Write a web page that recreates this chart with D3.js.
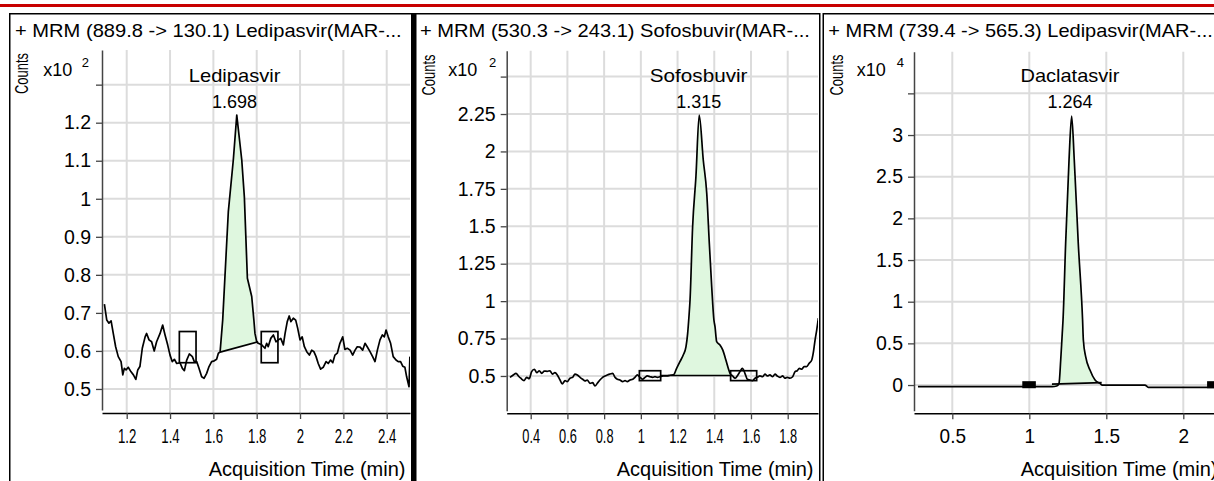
<!DOCTYPE html>
<html><head><meta charset="utf-8">
<script src="https://cdn.jsdelivr.net/npm/d3@7"></script>
<style>
body{margin:0;background:#fff}
svg{display:block}
text{font-family:"Liberation Sans",Arial,Helvetica,sans-serif;fill:#000}
</style>
</head><body>
<svg id="c" width="1214" height="481"></svg>
<script>
// ---------------- DATA ----------------
const panelTitles = ["+ MRM (889.8 -> 130.1) Ledipasvir(MAR-...", "+ MRM (530.3 -> 243.1) Sofosbuvir(MAR-...", "+ MRM (739.4 -> 565.3) Ledipasvir(MAR-..."];
const compoundNames = ["Ledipasvir", "Sofosbuvir", "Daclatasvir"];
const retentionTimes = [1.698, 1.315, 1.264];
const countExponents = [2, 2, 4];
const yAxisLabel = "Counts";
const xAxisLabel = "Acquisition Time (min)";

// Panel 1 : Ledipasvir (x10^2 counts)
const p1Time = [1.097,1.108,1.118,1.128,1.138,1.149,1.161,1.174,1.182,1.189,1.197,1.207,1.220,1.231,1.242,1.251,1.261,1.272,1.285,1.292,1.303,1.315,1.327,1.338,1.354,1.366,1.377,1.389,1.400,1.410,1.420,1.431,1.446,1.457,1.466,1.477,1.489,1.503,1.512,1.523,1.534,1.546,1.557,1.569,1.580,1.592,1.604,1.615,1.623,1.631,
 1.643,1.669,1.692,1.708,1.731,1.743,1.757,1.777,1.787,1.792,1.800,
 1.807,1.823,1.838,1.846,1.853,1.865,1.877,1.889,1.900,1.911,1.923,1.931,1.941,1.950,1.958,1.969,1.980,1.989,2.000,2.010,2.020,2.031,2.043,2.054,2.064,2.074,2.084,2.095,2.107,2.120,2.130,2.141,2.151,2.161,2.172,2.184,2.197,2.207,2.218,2.231,2.243,2.254,2.264,2.277,2.289,2.300,2.310,2.323,2.335,2.346,2.357,2.369,2.380,2.389,2.397,2.407,2.418,2.430,2.443,2.453,2.464,2.474,2.484,2.492,2.503,2.507];
const p1Counts = [0.723,0.681,0.673,0.679,0.646,0.611,0.585,0.572,0.537,0.554,0.550,0.557,0.545,0.537,0.525,0.550,0.559,0.607,0.637,0.646,0.629,0.624,0.600,0.624,0.646,0.668,0.642,0.616,0.589,0.572,0.578,0.567,0.569,0.554,0.548,0.576,0.592,0.585,0.572,0.572,0.554,0.532,0.528,0.541,0.559,0.572,0.574,0.578,0.594,0.597,
 0.681,0.966,1.102,1.220,1.102,1.005,0.791,0.743,0.681,0.646,0.624,
 0.620,0.616,0.607,0.620,0.611,0.633,0.642,0.624,0.629,0.633,0.616,0.646,0.677,0.692,0.677,0.686,0.681,0.660,0.629,0.637,0.611,0.598,0.589,0.602,0.598,0.585,0.567,0.552,0.557,0.572,0.567,0.576,0.569,0.589,0.594,0.620,0.637,0.604,0.607,0.602,0.589,0.602,0.611,0.610,0.602,0.620,0.611,0.598,0.585,0.572,0.602,0.629,0.642,0.637,0.655,0.637,0.620,0.585,0.576,0.572,0.572,0.560,0.557,0.532,0.506,0.585];
const p1BaselineTime = [1.631, 1.807];
const p1BaselineCounts = [0.597, 0.624];
const p1Boxes = [[1.443, 1.520, 0.569, 0.651], [1.821, 1.898, 0.569, 0.651]];
const p1XTicks = [1.2, 1.4, 1.6, 1.8, 2.0, 2.2, 2.4];
const p1YTicks = [0.5, 0.6, 0.7, 0.8, 0.9, 1.0, 1.1, 1.2, 1.3];

// Panel 2 : Sofosbuvir (x10^2 counts)
const p2Time = [0.287,0.305,0.320,0.333,0.346,0.364,0.378,0.392,0.405,0.420,0.433,0.447,0.460,0.474,0.490,0.505,0.518,0.532,0.545,0.560,0.572,0.587,0.599,0.614,0.629,0.641,0.654,0.669,0.683,0.696,0.708,0.723,0.738,0.750,0.763,0.777,0.792,0.805,0.817,0.832,0.847,0.859,0.872,0.886,0.901,0.914,0.926,0.941,0.956,0.968,0.981,0.995,1.010,1.023,1.035,1.050,1.065,1.077,1.090,1.104,1.122,1.141,1.159,1.177,1.195,1.213,1.231,1.246,1.255,1.262,1.268,1.282,1.300,1.318,1.340,1.359,1.373,1.386,1.398,1.404,1.413,1.431,1.446,1.458,1.471,1.486,1.500,1.513,1.525,1.540,1.553,1.567,1.580,1.594,1.609,1.622,1.634,1.649,1.664,1.676,1.689,1.703,1.718,1.731,1.743,1.758,1.773,1.785,1.798,1.812,1.827,1.840,1.852,1.863,1.876,1.889,1.903,1.917,1.931,1.939,1.949,1.958,1.967];
const p2Counts = [0.491,0.507,0.518,0.500,0.485,0.469,0.491,0.482,0.529,0.545,0.522,0.535,0.518,0.533,0.531,0.535,0.513,0.522,0.507,0.473,0.447,0.469,0.462,0.485,0.491,0.513,0.507,0.491,0.478,0.467,0.473,0.451,0.455,0.433,0.451,0.473,0.491,0.500,0.507,0.513,0.518,0.491,0.478,0.473,0.462,0.469,0.462,0.473,0.478,0.491,0.507,0.491,0.478,0.491,0.500,0.495,0.491,0.495,0.491,0.495,0.500,0.500,0.505,0.507,0.551,0.596,0.640,0.696,0.785,0.896,1.008,1.497,1.831,2.243,1.943,1.720,1.386,1.097,0.874,0.829,0.729,0.707,0.674,0.629,0.573,0.518,0.500,0.485,0.500,0.529,0.551,0.518,0.478,0.473,0.469,0.485,0.491,0.500,0.495,0.513,0.500,0.507,0.495,0.513,0.500,0.491,0.500,0.485,0.491,0.485,0.495,0.529,0.535,0.551,0.545,0.562,0.562,0.585,0.607,0.652,0.740,0.807,0.887];
const p2BaselineTime = [1.104, 1.500];
const p2BaselineCounts = [0.503, 0.503];
const p2Boxes = [[0.992, 1.108, 0.469, 0.535], [1.489, 1.631, 0.469, 0.535]];
const p2XTicks = [0.4, 0.6, 0.8, 1.0, 1.2, 1.4, 1.6, 1.8];
const p2YTicks = [0.5, 0.75, 1.0, 1.25, 1.5, 1.75, 2.0, 2.25, 2.5];

// Panel 3 : Daclatasvir (x10^4 counts)
const p3Time = [0.277,0.959,1.149,1.178,1.193,1.204,1.214,1.219,1.236,1.258,1.275,1.292,1.318,1.346,1.351,1.366,1.394,1.427,1.459,1.474,1.751,1.773,2.251];
const p3Counts = [-0.020,-0.020,-0.020,-0.012,0.020,0.300,0.620,0.780,1.700,2.700,3.228,2.700,1.700,0.780,0.540,0.340,0.180,0.060,0.020,0.000,0.000,-0.028,-0.028];
const p3BaselineTime = [1.147, 1.470];
const p3BaselineCounts = [0.012, 0.028];
const p3Boxes = [[0.960, 1.037, -0.028, 0.036], [2.160, 2.237, -0.028, 0.036]];
const p3XTicks = [0.5, 1.0, 1.5, 2.0];
const p3YTicks = [0, 0.5, 1.0, 1.5, 2.0, 2.5, 3.0, 3.5];

// ---------------- LAYOUT ----------------
const panels = [
  {time:p1Time, counts:p1Counts, bt:p1BaselineTime, bc:p1BaselineCounts, boxes:p1Boxes, xTicks:p1XTicks, yTicks:p1YTicks, curve:d3.curveLinear,
   frameX:9, frameW:403, ax:102, ar:410, yTop:50, yBot:410, xAxisY:413, xDom:[1.086,2.5075], yDom:[0.4447,1.3911],
   titleX:15, titleW:387, countsX:28, countsY:73.5, x10X:43.3, supX:81.7, xCond:0.66},
  {time:p2Time, counts:p2Counts, bt:p2BaselineTime, bc:p2BaselineCounts, boxes:p2Boxes, xTicks:p2XTicks, yTicks:p2YTicks, curve:d3.curveMonotoneX,
   frameX:415, frameW:404, ax:506.7, ar:818, yTop:50.7, yBot:410.7, xAxisY:413.3, xDom:[0.2693,1.965], yDom:[0.268,2.673],
   titleX:420, titleW:390, countsX:435, countsY:75, x10X:448.3, supX:489, xCond:0.64},
  {time:p3Time, counts:p3Counts, bt:p3BaselineTime, bc:p3BaselineCounts, boxes:p3Boxes, xTicks:p3XTicks, yTicks:p3YTicks, curve:d3.curveMonotoneX,
   frameX:822.5, frameW:500, ax:914, ar:1222, yTop:51.7, yBot:410.7, xAxisY:413.3, xDom:[0.2513,2.2513], yDom:[-0.308,4.0],
   titleX:828.3, titleW:385, countsX:843.3, countsY:75, x10X:856.7, supX:896.7, xCond:0.95}
];

const svg = d3.select('#c');
svg.append('rect').attr('x',0).attr('y',4).attr('width',1214).attr('height',3).attr('fill','#c80000');

const fmt = d3.format('~g');

function fitWidth(sel, target) {
  sel.each(function () {
    const L = this.getComputedTextLength();
    const k = target / L;
    const t = d3.select(this).attr('transform') || '';
    const ax = +d3.select(this).attr('x') || 0;
    d3.select(this).attr('transform', `${t} translate(${ax},0) scale(${k},1) translate(${-ax},0)`);
  });
}

panels.forEach((p, i) => {
  const g = svg.append('g');
  g.append('rect').attr('x', p.frameX + 0.75).attr('y', 13.75).attr('width', p.frameW).attr('height', 520)
    .attr('fill', 'none').attr('stroke', '#000').attr('stroke-width', 1.5);

  const x = d3.scaleLinear().domain(p.xDom).range([p.ax, p.ar]);
  const y = d3.scaleLinear().domain(p.yDom).range([p.yBot, p.yTop]);

  g.append('g').selectAll('line').data(p.xTicks).join('line')
    .attr('x1', d => x(d)).attr('x2', d => x(d)).attr('y1', p.yTop).attr('y2', p.xAxisY)
    .attr('stroke', '#dcdcdc').attr('stroke-width', 2);
  g.append('g').selectAll('line').data(p.yTicks).join('line')
    .attr('x1', p.ax).attr('x2', p.ar).attr('y1', d => y(d)).attr('y2', d => y(d))
    .attr('stroke', '#dcdcdc').attr('stroke-width', 2);

  const cid = 'clip' + i;
  svg.append('clipPath').attr('id', cid).append('rect')
    .attr('x', p.ax).attr('y', p.yTop - 5).attr('width', p.ar - p.ax).attr('height', p.xAxisY - p.yTop + 5);
  const plot = g.append('g').attr('clip-path', `url(#${cid})`);

  const pts = p.time.map((t, k) => [t, p.counts[k]]);
  const bInterp = t => p.bc[0] + (t - p.bt[0]) / (p.bt[1] - p.bt[0]) * (p.bc[1] - p.bc[0]);
  const peakPts = pts.filter(d => d[0] >= p.bt[0] - 1e-9 && d[0] <= p.bt[1] + 1e-9);

  plot.append('path').datum(peakPts)
    .attr('d', d3.area().curve(p.curve).x(d => x(d[0])).y0(d => y(bInterp(d[0]))).y1(d => y(d[1])))
    .attr('fill', '#dff7df').attr('stroke', 'none');

  plot.append('path').datum(pts)
    .attr('d', d3.line().curve(p.curve).x(d => x(d[0])).y(d => y(d[1])))
    .attr('fill', 'none').attr('stroke', '#000').attr('stroke-width', 1.7).attr('stroke-linejoin', 'round');

  plot.append('line')
    .attr('x1', x(p.bt[0])).attr('y1', y(p.bc[0])).attr('x2', x(p.bt[1])).attr('y2', y(p.bc[1]))
    .attr('stroke', '#000').attr('stroke-width', 1.7);

  plot.selectAll('rect.box').data(p.boxes).join('rect').attr('class', 'box')
    .attr('x', d => x(d[0])).attr('width', d => x(d[1]) - x(d[0]))
    .attr('y', d => y(d[3])).attr('height', d => y(d[2]) - y(d[3]))
    .attr('fill', d => (y(d[2]) - y(d[3]) < 8 ? '#000' : 'none'))
    .attr('stroke', '#000').attr('stroke-width', 1.7);

  const topTick = p.yTicks[p.yTicks.length - 1];
  const yAxis = d3.axisLeft(y).tickValues(p.yTicks).tickSize(6).tickSizeOuter(0).tickPadding(5)
    .tickFormat(d => d === topTick ? '' : fmt(d));
  const yg = g.append('g').attr('transform', `translate(${p.ax},0)`).call(yAxis);
  yg.select('.domain').attr('stroke', '#444').attr('stroke-width', 1.5);
  yg.selectAll('.tick line').attr('stroke', '#444').attr('stroke-width', 1.3);
  yg.selectAll('text').attr('font-size', 19.5).attr('fill', '#000')
    .style('font-family', '"Liberation Sans", Arial, sans-serif');

  const xAxis = d3.axisBottom(x).tickValues(p.xTicks).tickSize(6).tickSizeOuter(0).tickPadding(10).tickFormat(fmt);
  const xg = g.append('g').attr('transform', `translate(0,${p.xAxisY})`).call(xAxis);
  xg.select('.domain').attr('stroke', '#000').attr('stroke-width', 1.5);
  xg.selectAll('.tick line').attr('stroke', '#444').attr('stroke-width', 1.3);
  xg.selectAll('text').attr('font-size', 20).attr('fill', '#000')
    .style('font-family', '"Liberation Sans", Arial, sans-serif')
    .attr('transform', `scale(${p.xCond},1)`);

  const tt = g.append('text').attr('x', p.titleX).attr('y', 37).attr('font-size', 18).text(panelTitles[i]);
  fitWidth(tt, p.titleW);

  const ct = g.append('text').attr('transform', `translate(${p.countsX},${p.countsY}) rotate(-90)`)
    .attr('text-anchor', 'middle').attr('font-size', 19).text(yAxisLabel);
  fitWidth(ct, 41);

  g.append('text').attr('x', p.x10X).attr('y', 76).attr('font-size', 18).text('x10');
  g.append('text').attr('x', p.supX).attr('y', 66.5).attr('font-size', 13).text(countExponents[i]);

  const rx = x(retentionTimes[i]);
  const nt = g.append('text').attr('x', rx).attr('y', 81.7).attr('text-anchor', 'middle').attr('font-size', 18)
    .text(compoundNames[i]);
  fitWidth(nt, [91.7, 97.7, 99][i]);
  g.append('text').attr('x', rx).attr('y', 108.3).attr('text-anchor', 'middle').attr('font-size', 18)
    .text(d3.format('.3f')(retentionTimes[i]));

  g.append('text').attr('x', p.ar - 4.5).attr('y', 476).attr('text-anchor', 'end').attr('font-size', 20)
    .text(xAxisLabel);
});

svg.append('rect').attr('x', 411).attr('y', 13).attr('width', 4.5).attr('height', 470).attr('fill', '#000');
</script>
</body></html>
